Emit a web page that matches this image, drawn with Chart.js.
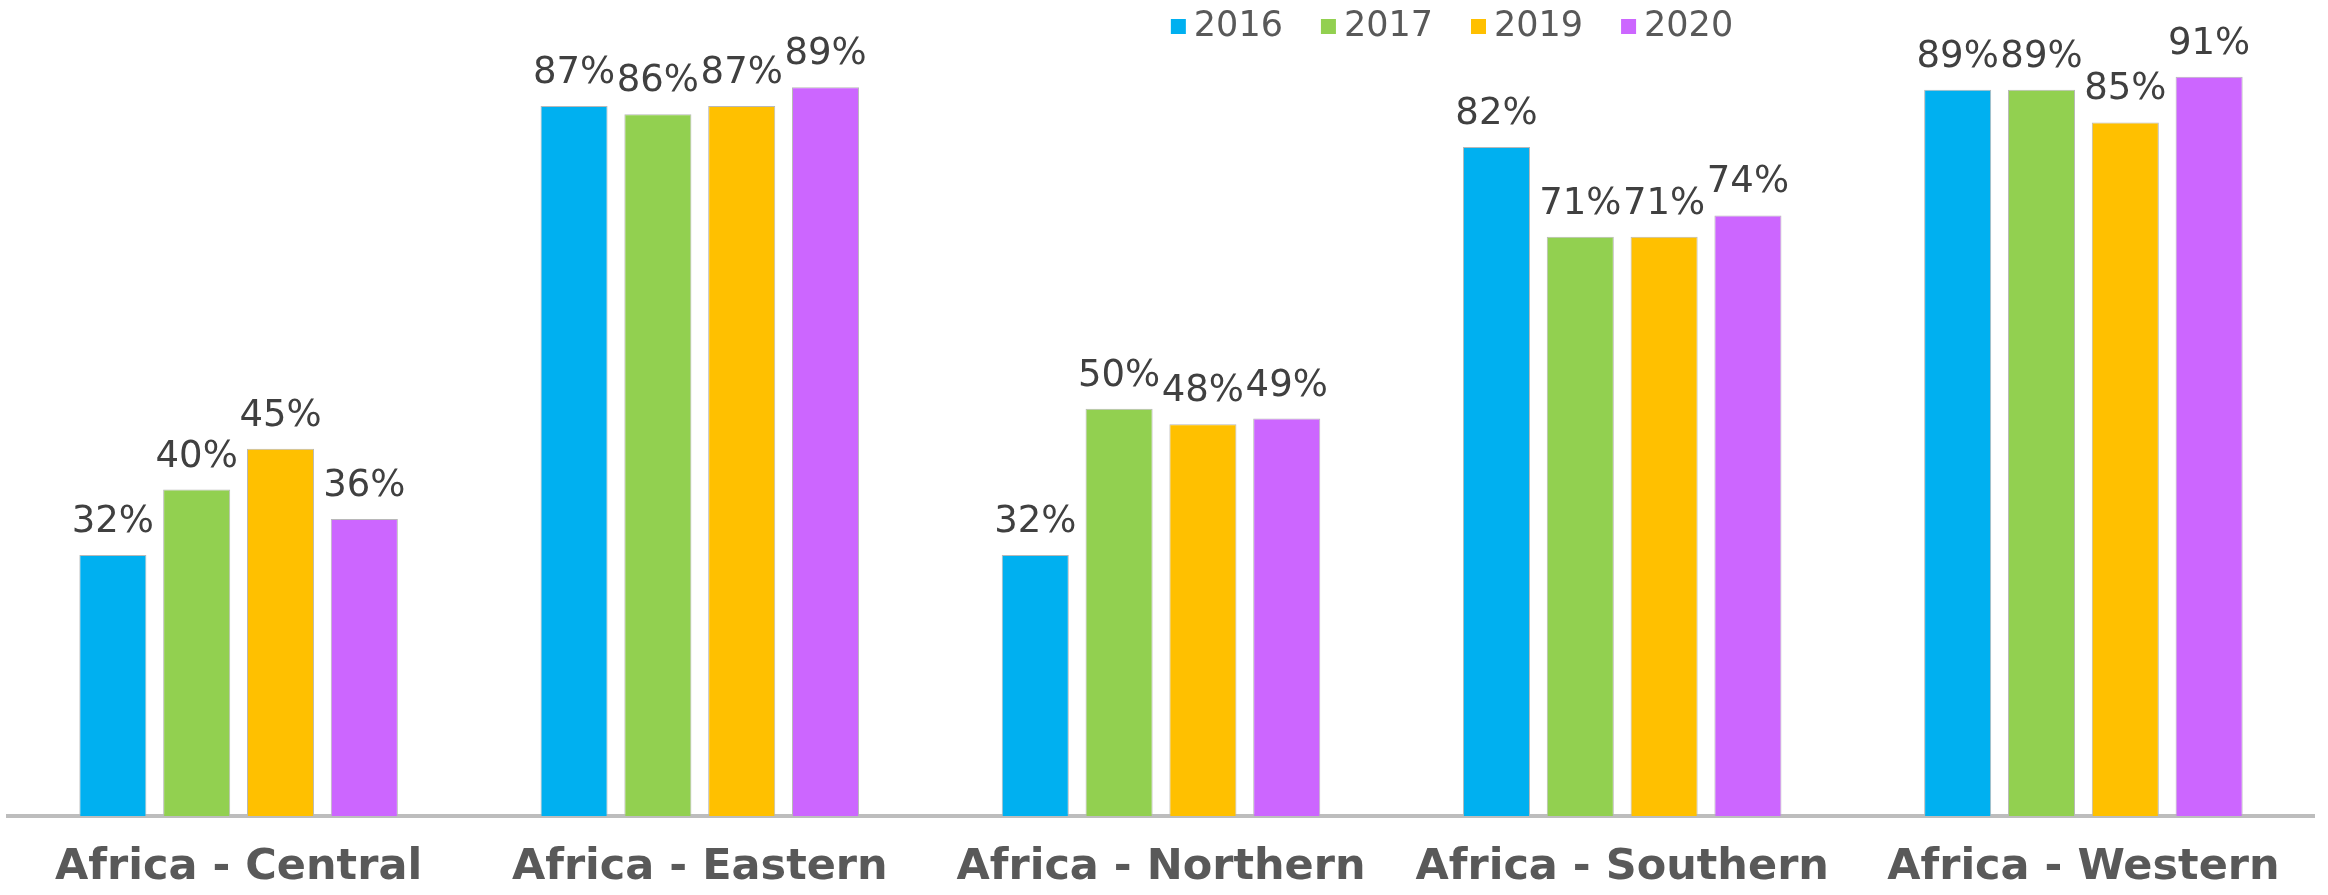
<!DOCTYPE html>
<html>
<head>
<meta charset="utf-8">
<script src="https://cdn.jsdelivr.net/npm/chart.js@4.4.1/dist/chart.umd.min.js"></script>
<style>
  html, body { margin: 0; padding: 0; background: #fff; }
  #wrap { width: 2328px; height: 895px; position: relative; }
</style>
</head>
<body>
<div id="wrap"><canvas id="grafico"></canvas></div>
<script>
// dados
const regioes = ['Africa - Central', 'Africa - Eastern', 'Africa - Northern', 'Africa - Southern', 'Africa - Western']
const anos = ['2016', '2017', '2019', '2020']
const v2016 = [32, 87, 32, 82, 89]
const v2017 = [40, 86, 49.9, 71, 89]
const v2019 = [45, 87, 48, 71, 85]
const v2020 = [36.4, 89.3, 48.7, 73.6, 90.6]
const cores = ['#00B0F0', '#92D050', '#FFC000', '#CC66FF']

const series = [v2016, v2017, v2019, v2020]

// rótulos de % em cima das barras
const rotulos = {
  id: 'rotulos',
  afterDatasetsDraw(chart) {
    const c = chart.ctx
    c.save()
    c.font = '37px "DejaVu Sans"'
    c.fillStyle = '#404040'
    c.textAlign = 'center'
    c.textBaseline = 'alphabetic'
    chart.data.datasets.forEach((ds, i) => {
      chart.getDatasetMeta(i).data.forEach((bar, j) => {
        c.fillText(Math.round(ds.data[j]) + '%', bar.x, bar.y - 23)
      })
    })
    c.restore()
  }
}

// legenda desenhada à mão (posição deslocada para a direita)
const legenda = {
  id: 'legenda',
  afterDraw(chart) {
    const c = chart.ctx
    const box = 15, gap = 8, esp = 38
    c.save()
    c.font = '35px "DejaVu Sans"'
    c.textBaseline = 'alphabetic'
    c.textAlign = 'left'
    const larg = chart.data.datasets.map(ds => box + gap + c.measureText(ds.label).width)
    const total = larg.reduce((a, b) => a + b, 0) + esp * (larg.length - 1)
    let x = 1452 - total / 2
    chart.data.datasets.forEach((ds, i) => {
      c.fillStyle = ds.backgroundColor
      c.fillRect(x, 19, box, box)
      c.fillStyle = '#595959'
      c.fillText(ds.label, x + box + gap, 36)
      x += larg[i] + esp
    })
    c.restore()
  }
}

const data = {
  labels: regioes,
  datasets: anos.map((a, i) => ({
    label: a,
    data: series[i],
    backgroundColor: cores[i],
    borderColor: '#b8b8b8',
    borderWidth: 1,
    categoryPercentage: 0.727,
    barPercentage: 0.8
  }))
}

const config = {
  type: 'bar',
  data,
  options: {
    responsive: true,
    maintainAspectRatio: false,
    animation: false,
    devicePixelRatio: 1,
    layout: { padding: { left: 8, right: 14, top: 0, bottom: 0 } },
    plugins: {
      legend: { display: false },
      tooltip: { enabled: false }
    },
    scales: {
      x: {
        grid: { display: false, drawTicks: false },
        border: { display: true, color: '#bdbdbd', width: 4 },
        ticks: {
          color: '#595959',
          padding: 26,
          font: { family: 'DejaVu Sans', size: 43, weight: 'bold' }
        },
        afterFit(scale) { scale.height = 79 }
      },
      y: {
        display: false,
        min: 0,
        max: 100
      }
    }
  },
  plugins: [rotulos, legenda]
}

const graph = new Chart(document.getElementById('grafico'), config)
</script>
</body>
</html>
